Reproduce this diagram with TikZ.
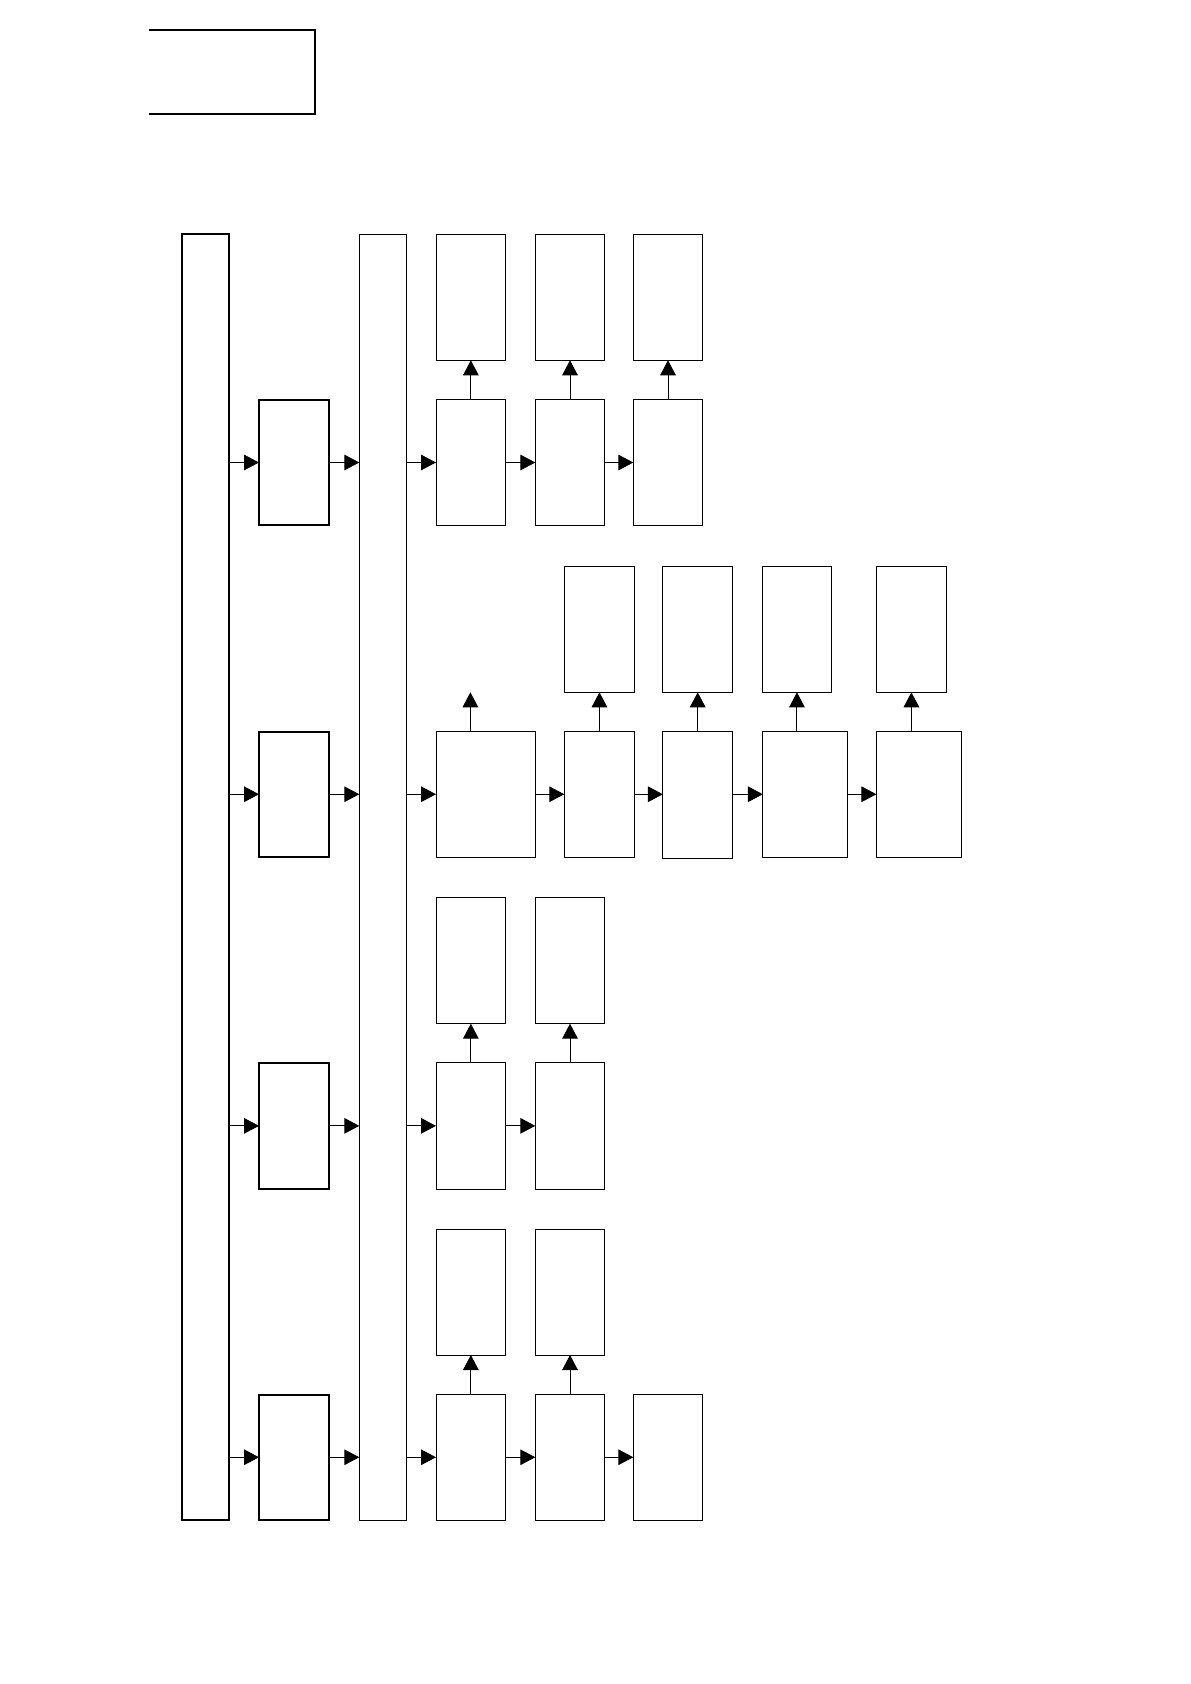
\documentclass[tikz,border=0pt]{standalone}
\usetikzlibrary{arrows.meta,fit}
\tikzset{
  thinbox/.style={draw, line width=0.5pt, inner sep=0pt, outer sep=0pt},
  thickbox/.style={draw, line width=1pt, inner sep=0pt, outer sep=0pt},
  arr/.style={line width=0.5pt, -{Triangle[length=7.5pt,width=7.8pt]}},
}
\begin{document}
\begin{tikzpicture}[x=0.5pt,y=-0.5pt]
\useasboundingbox (0,0) rectangle (1190,1684);
% title box, open on the left
\node[inner sep=0pt, outer sep=0pt, fit={(149,30) (315,114)}] (title) {};
\draw[line width=1.1pt] (title.north west) -- (title.north east) -- (title.south east) -- (title.south west);
% long bars
\node[thickbox, fit={(181.7,234.3) (228.7,1520)}] (L) {};
\node[thinbox, fit={(359.3,234.3) (406,1520)}] (B) {};
% second column (thick)
\node[thickbox, fit={(259,399.7) (329,525.3)}] (k1) {};
\node[thickbox, fit={(259,731.5) (329,857)}] (k2) {};
\node[thickbox, fit={(259,1062.7) (329,1189)}] (k3) {};
\node[thickbox, fit={(259,1394.5) (329,1520)}] (k4) {};
% row 1
\node[thinbox, fit={(436,399.7) (505.7,525.3)}] (a1) {};
\node[thinbox, fit={(535.3,399.7) (604.7,525.3)}] (a2) {};
\node[thinbox, fit={(633.3,399.7) (702.7,525.3)}] (a3) {};
\node[thinbox, fit={(436,234.3) (505.7,360.3)}] (au1) {};
\node[thinbox, fit={(535.3,234.3) (604.7,360.3)}] (au2) {};
\node[thinbox, fit={(633.3,234.3) (702.7,360.3)}] (au3) {};
% row 2
\node[thinbox, fit={(436,731.5) (535.4,857)}] (b1) {};
\node[thinbox, fit={(564.3,731.5) (634.6,857.5)}] (b2) {};
\node[thinbox, fit={(662.9,731.5) (732.5,858)}] (b3) {};
\node[thinbox, fit={(762.9,731.5) (847.9,857)}] (b4) {};
\node[thinbox, fit={(876.4,731.5) (961.4,857)}] (b5) {};
\node[thinbox, fit={(564.3,566) (634.6,692.3)}] (bu2) {};
\node[thinbox, fit={(662.9,566) (732.5,692.3)}] (bu3) {};
\node[thinbox, fit={(762.1,566) (831.8,692.3)}] (bu4) {};
\node[thinbox, fit={(876.4,566) (946.4,692.3)}] (bu5) {};
\coordinate (bfree) at (470.4,692.3);
% row 3
\node[thinbox, fit={(436,1062.7) (505.7,1189)}] (c1) {};
\node[thinbox, fit={(535.3,1062.7) (604.7,1189)}] (c2) {};
\node[thinbox, fit={(436,897.3) (505.7,1023.7)}] (cu1) {};
\node[thinbox, fit={(535.3,897.3) (604.7,1023.7)}] (cu2) {};
% row 4
\node[thinbox, fit={(436,1394.5) (505.7,1520)}] (d1) {};
\node[thinbox, fit={(535.3,1394.5) (604.7,1520)}] (d2) {};
\node[thinbox, fit={(633.3,1394.5) (702.7,1520)}] (d3) {};
\node[thinbox, fit={(436,1229) (505.7,1355)}] (du1) {};
\node[thinbox, fit={(535.3,1229) (604.7,1355)}] (du2) {};
% arrows: left bar -> second column -> bar B -> first boxes
\foreach \k/\f in {k1/a1,k2/b1,k3/c1,k4/d1}{
  \draw[arr] (L.east |- \k.west) -- (\k.west);
  \draw[arr] (\k.east) -- (\k.east -| B.west);
  \draw[arr] (B.east |- \f.west) -- (\f.west);
}
% row 1
\draw[arr] (a1.east) -- (a2.west);
\draw[arr] (a2.east) -- (a3.west);
\draw[arr] (a1.north) -- (au1.south);
\draw[arr] (a2.north) -- (au2.south);
\draw[arr] (a3.north) -- (au3.south);
% row 2
\draw[arr] (b1.east) -- (b2.west |- b1.east);
\draw[arr] (b2.east |- b1.east) -- (b3.west |- b1.east);
\draw[arr] (b3.east |- b1.east) -- (b4.west);
\draw[arr] (b4.east) -- (b5.west);
\draw[arr] (bfree |- b1.north) -- (bfree);
\draw[arr] (bu2.south |- b2.north) -- (bu2.south);
\draw[arr] (bu3.south |- b3.north) -- (bu3.south);
\draw[arr] (bu4.south |- b4.north) -- (bu4.south);
\draw[arr] (bu5.south |- b5.north) -- (bu5.south);
% row 3
\draw[arr] (c1.east) -- (c2.west);
\draw[arr] (c1.north) -- (cu1.south);
\draw[arr] (c2.north) -- (cu2.south);
% row 4
\draw[arr] (d1.east) -- (d2.west);
\draw[arr] (d2.east) -- (d3.west);
\draw[arr] (d1.north) -- (du1.south);
\draw[arr] (d2.north) -- (du2.south);
\end{tikzpicture}
\end{document}
